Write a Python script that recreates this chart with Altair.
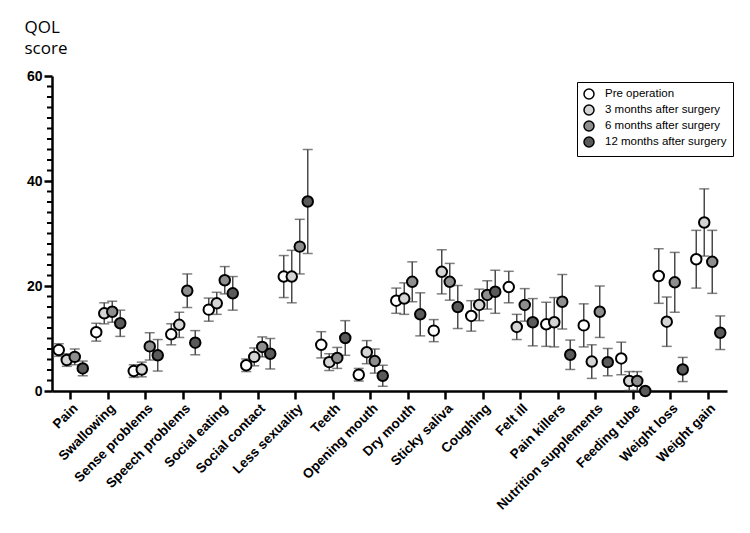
import altair as alt
import pandas as pd

categories = ["Pain", "Swallowing", "Sense problems", "Speech problems", "Social eating",
              "Social contact", "Less sexuality", "Teeth", "Opening mouth", "Dry mouth",
              "Sticky saliva", "Coughing", "Felt ill", "Pain killers", "Nutrition supplements",
              "Feeding tube", "Weight loss", "Weight gain"]
groups = ["Pre operation", "3 months after surgery", "6 months after surgery", "12 months after surgery"]
colors = ["#ffffff", "#d4d4d4", "#8e8e8e", "#5a5a5a"]

pre_mean = [7.8, 11.2, 3.8, 10.8, 15.5, 4.9, 21.8, 8.8, 3.1, 17.2, 11.5, 14.3, 19.8, 12.7, 12.5, 6.2, 21.9, 25.1]
pre_err = [1.2, 1.7, 1.2, 2.0, 2.2, 1.2, 4.0, 2.5, 1.2, 2.4, 2.1, 2.9, 3.0, 4.2, 4.1, 3.1, 5.2, 5.5]
m3_mean = [5.9, 14.8, 4.1, 12.6, 16.7, 6.5, 21.8, 5.5, 7.4, 17.6, 22.7, 16.4, 12.2, 13.1, 5.6, 1.9, 13.2, 32.1]
m3_err = [1.2, 2.0, 1.4, 2.4, 2.1, 1.7, 5.0, 1.6, 2.2, 3.0, 4.2, 3.0, 2.4, 4.7, 3.2, 1.8, 4.7, 6.4]
m6_mean = [6.5, 15.1, 8.5, 19.1, 21.1, 8.4, 27.5, 6.3, 5.7, 20.8, 20.8, 18.3, 16.4, 17.0, 15.1, 1.9, 20.7, 24.6]
m6_err = [1.5, 2.0, 2.6, 3.2, 2.6, 1.9, 5.2, 2.0, 2.3, 3.8, 3.5, 2.7, 3.1, 5.2, 4.9, 1.8, 5.7, 6.0]
m12_mean = [4.3, 12.9, 6.8, 9.2, 18.6, 7.1, 36.1, 10.1, 2.9, 14.6, 16.0, 18.9, 13.1, 6.9, 5.5, 0.0, 4.1, 11.1]
m12_err = [1.4, 2.5, 3.0, 2.3, 3.2, 2.9, 9.9, 3.3, 2.0, 4.1, 4.1, 4.1, 4.5, 2.8, 2.6, 0.0, 2.3, 3.2]

y_major_ticks = [0, 20, 40, 60]
y_minor_ticks = [v for v in range(0, 61, 2) if v % 20 != 0]

rows = []
for g, means, errs in zip(groups, [pre_mean, m3_mean, m6_mean, m12_mean],
                          [pre_err, m3_err, m6_err, m12_err]):
    for c, m, e in zip(categories, means, errs):
        rows.append({"category": c, "group": g, "mean": m, "err": e})
df = pd.DataFrame(rows)
tick_df = pd.DataFrame({"v": y_minor_ticks})

FONT = "Liberation Sans"


def yscale():
    return alt.Scale(domain=[0, 60], nice=False, zero=True)


x_axis = alt.Axis(title=None, labelAngle=-45, labelAlign="right",
                  labelFont=FONT, labelFontSize=13.5, labelFontWeight="bold",
                  labelColor="black", tickSize=8, tickWidth=2.5, tickColor="black",
                  domainWidth=2.5, domainColor="black", labelPadding=2)
x_enc = alt.X("category:N", sort=categories,
              scale=alt.Scale(domain=categories, paddingInner=0.147, paddingOuter=0.0735),
              axis=x_axis)

base = alt.Chart(df).transform_calculate(
    lo="datum.mean - datum.err", hi="datum.mean + datum.err"
).encode(
    x=x_enc,
    xOffset=alt.XOffset("group:N", sort=groups,
                        scale=alt.Scale(domain=groups, paddingInner=0, paddingOuter=0)),
)

major_axis = alt.Axis(values=y_major_ticks, tickSize=8, tickWidth=2.5, tickColor="black",
                      domainWidth=2.5, domainColor="black", grid=False, labelOverlap=False,
                      labelFont=FONT, labelFontSize=14, labelFontWeight="bold",
                      labelColor="black", labelPadding=2, orient="left",
                      title=["QOL", "score"], titleAngle=0, titleAlign="left",
                      titleBaseline="alphabetic", titleX=-28, titleY=-44,
                      titleFont="Open Sans", titleFontSize=17, titleFontWeight="normal",
                      titleLineHeight=21, titleColor="black")

# minor y-axis ticks (axis decoration), positioned through the y scale
minor_ticks = alt.Chart(tick_df).mark_rule(color="black", strokeWidth=2).encode(
    y=alt.Y("v:Q", scale=yscale(), axis=None),
    x=alt.value(-5), x2=alt.value(0))

rules = base.mark_rule(color="#4a4a4a", strokeWidth=1.5).encode(
    y=alt.Y("lo:Q", scale=yscale(), axis=None), y2="hi:Q")
cap_lo = base.mark_tick(color="#4a4a4a", thickness=1.5, size=10).encode(
    y=alt.Y("lo:Q", scale=yscale(), axis=None))
cap_hi = base.mark_tick(color="#4a4a4a", thickness=1.5, size=10).encode(
    y=alt.Y("hi:Q", scale=yscale(), axis=None))
points = base.mark_circle(size=110, stroke="black", strokeWidth=2, opacity=1).encode(
    y=alt.Y("mean:Q", scale=yscale(), axis=major_axis),
    fill=alt.Fill("group:N", sort=groups, scale=alt.Scale(domain=groups, range=colors),
                  legend=alt.Legend(title=None, orient="none", legendX=525, legendY=6,
                                    strokeColor="black", fillColor="white", padding=6,
                                    symbolType="circle", symbolSize=100,
                                    symbolStrokeColor="black", symbolStrokeWidth=1.5,
                                    labelFont=FONT, labelFontSize=11.5, labelColor="black",
                                    labelOffset=10, rowPadding=0)),
)

chart = alt.layer(minor_ticks, rules, cap_lo, cap_hi, points).resolve_scale(
    y="independent"
).resolve_axis(y="independent").properties(
    width=675, height=315,
    autosize=alt.AutoSizeParams(type="none"),
    padding={"left": 52, "top": 76, "right": 23, "bottom": 142},
    background="white",
).configure_view(stroke=None)

chart.save("out.html", embed_options={"renderer": "svg", "actions": False})
